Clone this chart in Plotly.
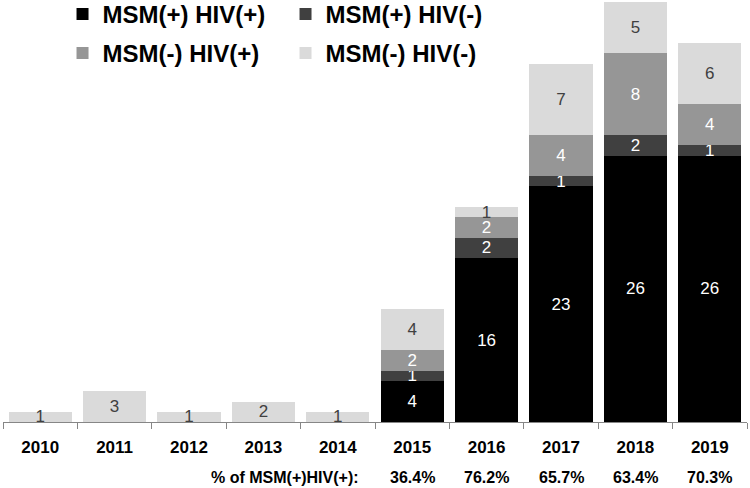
import plotly.graph_objects as go

years = ["2010", "2011", "2012", "2013", "2014", "2015", "2016", "2017", "2018", "2019"]
msm_pos_hiv_pos = [0, 0, 0, 0, 0, 4, 16, 23, 26, 26]
msm_pos_hiv_neg = [0, 0, 0, 0, 0, 1, 2, 1, 2, 1]
msm_neg_hiv_pos = [0, 0, 0, 0, 0, 2, 2, 4, 8, 4]
msm_neg_hiv_neg = [1, 3, 1, 2, 1, 4, 1, 7, 5, 6]
pct_years = ["2015", "2016", "2017", "2018", "2019"]
pct_labels = ["36.4%", "76.2%", "65.7%", "63.4%", "70.3%"]
pct_title = "% of MSM(+)HIV(+):"

series = [
    ("MSM(+) HIV(+)", msm_pos_hiv_pos, "#000000", "white", "legend"),
    ("MSM(+) HIV(-)", msm_pos_hiv_neg, "#404040", "white", "legend"),
    ("MSM(-) HIV(+)", msm_neg_hiv_pos, "#969696", "white", "legend2"),
    ("MSM(-) HIV(-)", msm_neg_hiv_neg, "#dadada", "#404040", "legend2"),
]

BOLD = "Liberation Sans, Arial, sans-serif"

fig = go.Figure()
for name, vals, color, tcolor, lg in series:
    fig.add_trace(go.Bar(
        x=years, y=vals, name=name,
        marker=dict(color=color, line=dict(width=0)),
        text=[str(v) if v > 0 else "" for v in vals],
        textposition="inside", insidetextanchor="middle", constraintext="none",
        textangle=0,
        textfont=dict(family="Liberation Sans, Arial, sans-serif", size=17, color=tcolor),
        cliponaxis=False, legend=lg, hoverinfo="skip",
    ))

pct_y = -(477 - 422) / 422
for yr, lab in zip(pct_years, pct_labels):
    fig.add_annotation(x=years.index(yr), y=pct_y, xref="x", yref="paper", text="<b>" + lab + "</b>",
                       showarrow=False, font=dict(family=BOLD, size=16, color="black"),
                       xanchor="center", yanchor="middle")
fig.add_annotation(x=years.index(pct_years[0]) - 0.5, y=pct_y, xref="x", yref="paper",
                   text="<b>" + pct_title + "</b>", xshift=-14,
                   showarrow=False, font=dict(family=BOLD, size=16, color="black"),
                   xanchor="right", yanchor="middle")

leg_common = dict(orientation="h", xanchor="left", yanchor="top", entrywidth=178,
                  entrywidthmode="pixels", bgcolor="rgba(0,0,0,0)", traceorder="normal",
                  font=dict(family=BOLD, size=24, color="black", weight="bold"),
                  itemclick=False, itemdoubleclick=False)
fig.update_layout(
    width=750, height=488,
    margin=dict(l=3, r=3, t=0, b=66, autoexpand=False),
    paper_bgcolor="white", plot_bgcolor="white",
    barmode="stack", bargap=0.15,
    showlegend=True,
    legend=dict(x=0.080, y=1 + 8 / 422, **leg_common),
    legend2=dict(x=0.080, y=1 - 31 / 422, **leg_common),
    xaxis=dict(type="category", showline=True, linecolor="#868686", linewidth=1,
               ticks="outside", tickson="boundaries", ticklen=6, tickcolor="#868686",
               tickmode="array", tickvals=years, ticktext=["<b>" + y + "</b>" for y in years],
               tickfont=dict(family=BOLD, size=17, color="black"), showgrid=False,
               ticklabelstandoff=10),
    yaxis=dict(range=[0, 41.2], visible=False, showgrid=False),
)

fig.write_html("out.html", config={"displayModeBar": False},
               post_script="document.body.style.margin='0';")
